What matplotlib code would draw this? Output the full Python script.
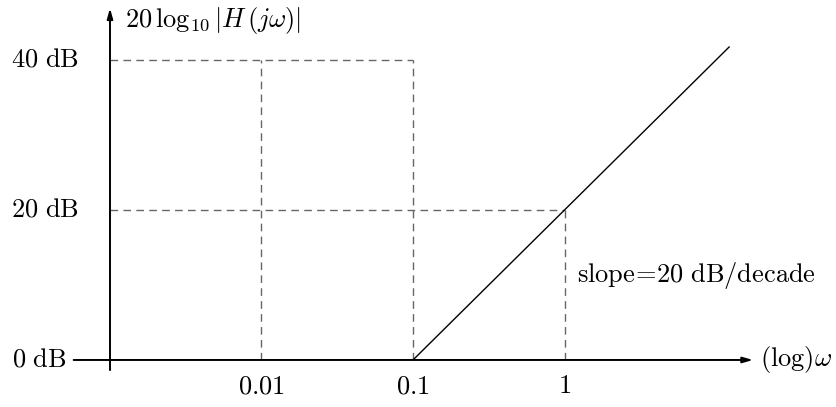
import matplotlib
matplotlib.use("Agg")
import matplotlib.pyplot as plt
import numpy as np

plt.rcParams['mathtext.fontset'] = 'cm'
plt.rcParams['font.family'] = 'serif'
plt.rcParams['font.serif'] = ['cmr10', 'DejaVu Serif']

# data (omega values, dB levels)
tick_omegas = [0.01, 0.1, 1]
tick_labels = ['0.01', '0.1', '1']
db_levels = [0, 20, 40]
db_labels = ['0 dB', '20 dB', '40 dB']
corner_omega = 0.1
end_omega = 12.3
slope_db_per_decade = 20

# guide lines
guide_40_omegas = [0.01, 0.1]
guide_20_omega = 1

fig = plt.figure(figsize=(8.36, 4.07), dpi=100)
ax = fig.add_axes([0, 0, 1, 1])
ax.set_xlim(-3.726, 1.792)
ax.set_ylim(-6.27, 48.0)
ax.axis('off')

L = np.log10
y_origin_L = -3.0
fs = 19

arrow = dict(arrowstyle='-|>,head_length=0.6,head_width=0.17', lw=1.4, color='black',
             shrinkA=0, shrinkB=0)
ax.annotate('', xy=(1.245, 0), xytext=(-3.24, 0), arrowprops=arrow)
ax.annotate('', xy=(y_origin_L, 46.9), xytext=(y_origin_L, -1.35), arrowprops=arrow)

dash = dict(color='#666666', lw=1.0, dashes=(5.5, 3.8))
ax.plot([y_origin_L, L(max(guide_40_omegas))], [40, 40], **dash)
for w in guide_40_omegas:
    ax.plot([L(w), L(w)], [0, 40], **dash)
ax.plot([y_origin_L, L(guide_20_omega)], [20, 20], **dash)
ax.plot([L(guide_20_omega)] * 2, [0, 20], **dash)

# asymptote
xs = np.array([L(corner_omega), L(end_omega)])
ys = slope_db_per_decade * (xs - L(corner_omega))
ax.plot(xs, ys, color='black', lw=1.0, solid_capstyle='butt')

for w, lab in zip(tick_omegas, tick_labels):
    ax.text(L(w), -3.5, '$' + lab + '$', ha='center', va='center', fontsize=fs)
for d, lab in zip(db_levels, db_labels):
    xpos = -3.288 if d == 0 else -3.208
    ax.text(xpos, d + 0.1, r'$' + lab.replace(' ', r'\ \mathrm{') + '}$',
            ha='right', va='center', fontsize=fs)

ax.text(-2.9, 45.2, r'$20\,\log_{10}|H\,(j\omega)|$', ha='left', va='center', fontsize=fs)
ax.text(1.29, 0.1, r'$(\log)\omega$', ha='left', va='center', fontsize=fs)
ax.text(0.085, 11.2, r'$\mathrm{slope}\!=\!20\ \mathrm{dB/decade}$', ha='left', va='center', fontsize=fs)

fig.savefig('out.png', dpi=100)
